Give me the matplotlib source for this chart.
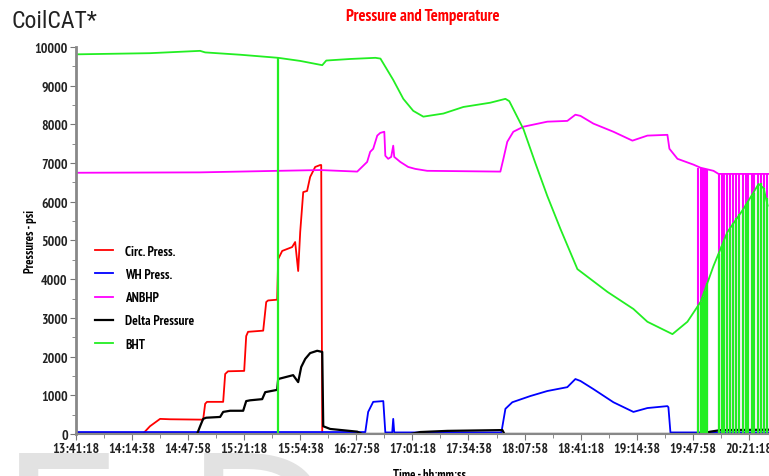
import matplotlib
matplotlib.use('Agg')
import matplotlib.pyplot as plt
from matplotlib.ticker import FuncFormatter, MultipleLocator

plt.rcParams['font.family'] = ['PT Sans Narrow', 'Roboto Condensed', 'DejaVu Sans']

# tiempo en minutos desde 13:41:18
start_s = 13 * 3600 + 41 * 60 + 18

circ_t = [0, 39.9, 44.0, 50.0, 55.9, 75.6, 76.8, 77.9, 87.5, 88.7, 90.4, 100.0, 101.2, 102.3,
          111.3, 113.1, 114.2, 119.6, 120.2, 122.6, 128.5, 130.3, 132.1, 133.3, 135.1, 137.4,
          139.2, 142.2, 145.2, 145.8, 146.4, 412]
circ_v = [10, 10, 200, 390, 380, 370, 780, 830, 830, 1550, 1620, 1630, 2530, 2640,
          2670, 3410, 3450, 3470, 4520, 4730, 4830, 4960, 4210, 5220, 6250, 6280,
          6640, 6900, 6950, 6950, 0, 0]

wh_t = [0, 172, 173.7, 176.7, 182.7, 183.9, 188.0, 188.6, 189.2, 252.9, 255.3, 259.4, 270.1,
        280.2, 292.1, 296.9, 299.9, 307.6, 319.5, 331.4, 339.7, 351.6, 352.2, 353.4, 412]
wh_v = [50, 50, 570, 830, 850, 40, 40, 390, 40, 40, 650, 820, 980,
        1110, 1210, 1420, 1370, 1160, 820, 570, 670, 720, 690, 40, 40]

anbhp_t = [0, 73.8, 120.2, 145.2, 167.2, 173.1, 174.9, 176.7, 179.1, 180.9, 183.3, 183.9, 185.6,
           187.4, 188.6, 189.2, 192.8, 197.5, 201.7, 208.8, 252.3, 254.1, 256.4, 260.0, 266.0,
           280.2, 292.1, 296.9, 299.9, 307.6, 319.5, 330.8, 339.7, 351.6, 352.8, 357.6, 367.1,
           371.3, 379.0, 382.0, 412]
anbhp_v = [6750, 6760, 6800, 6820, 6780, 7030, 7290, 7370, 7710, 7780, 7810, 7190, 7110,
           7160, 7450, 7160, 7030, 6900, 6850, 6800, 6780, 7110, 7550, 7810, 7940,
           8070, 8090, 8250, 8220, 8020, 7810, 7580, 7710, 7730, 7370, 7110, 6960,
           6880, 6800, 6720, 6720]

delta_t = [0, 72.0, 73.8, 75.6, 77.4, 85.7, 87.5, 91.6, 99.4, 101.2, 103.5, 110.7, 112.5, 119.6,
           120.2, 129.1, 132.1, 133.9, 136.3, 139.2, 143.4, 146.4, 147.0, 151.1, 167.2, 170.2,
           198.7, 204.7, 220.7, 252.3, 253.5, 254.7, 371.3, 377.2, 383.2, 412]
delta_v = [0, 0, 200, 390, 420, 440, 570, 600, 600, 850, 870, 900, 1080, 1140,
           1420, 1520, 1340, 1730, 1940, 2090, 2150, 2120, 200, 130, 60, 0,
           0, 50, 80, 100, 100, 0, 0, 60, 100, 110]

bht_t = [0, 44, 73.8, 76.8, 97.6, 120.2, 133.3, 146.4, 148.8, 163, 178, 181, 188.6, 194.6,
         200.5, 206.5, 218.4, 230.3, 246.3, 255.3, 257.6, 266, 273.1, 280.2, 288, 298.1,
         316, 331.4, 339.7, 354.6, 363.5, 371.3, 379, 387.3, 396.9, 402.2, 405.8, 408.8, 411.2]
bht_v = [9810, 9840, 9900, 9860, 9800, 9720, 9640, 9530, 9650, 9690, 9720, 9700, 9150, 8660,
         8350, 8200, 8280, 8450, 8560, 8660, 8600, 7880, 7000, 6150, 5300, 4260,
         3670, 3230, 2900, 2580, 2900, 3410, 4340, 5220, 5820, 6200, 6460, 6350, 5900]

# caídas a cero de la señal (BHT y ANBHP)
drop_t = [369.5, 371.3, 372.5, 373.7, 375.4, 382.0, 383.8, 385.0, 386.8, 388.6, 390.4,
          392.2, 394.0, 396.3, 398.2, 399.4, 401.7, 402.8, 405.2, 407.0, 408.8, 410.6]
drop_anbhp_top = [6880, 6880, 6860, 6850, 6830, 6720, 6720, 6720, 6720, 6720, 6720,
                  6720, 6720, 6720, 6720, 6720, 6720, 6720, 6720, 6720, 6720, 6720]
drop_bht_t = [120.2] + drop_t
drop_bht_top = [9720, 3300, 3410, 3550, 3700, 3900, 4650, 4850, 5000, 5180, 5300, 5450,
                5580, 5680, 5800, 5950, 6020, 6150, 6220, 6420, 6480, 6350, 6100]

red, blue, mag, green = '#ff0000', '#0000ff', '#ff00ff', '#22ee22'

fig = plt.figure(figsize=(7.69, 4.77), dpi=100)
ax = fig.add_axes([0.0988, 0.0881, 0.9012, 0.8113])

# marca de agua gris al pie
fig.text(0.0, -0.247, 'E', fontsize=140, color='#e2e2e2',
         family='DejaVu Sans', va='baseline', zorder=-5)
fig.text(0.24, -0.247, 'D', fontsize=140, color='#e2e2e2',
         family='DejaVu Sans', va='baseline', zorder=-5)

ax.plot(circ_t, circ_v, color=red, lw=1.3, label='Circ. Press.')
ax.plot(wh_t, wh_v, color=blue, lw=1.3, label='WH Press.')
ax.plot(anbhp_t, anbhp_v, color=mag, lw=1.3, label='ANBHP')
ax.vlines(drop_t, 0, drop_anbhp_top, color=mag, lw=1.5)
ax.plot(delta_t, delta_v, color='black', lw=1.6, label='Delta Pressure')
ax.plot(bht_t, bht_v, color=green, lw=1.3, label='BHT')
ax.vlines(drop_bht_t, 0, drop_bht_top, color=green, lw=1.6)

ax.set_xlim(0, 412)
ax.set_ylim(0, 10000)
ax.xaxis.set_major_locator(MultipleLocator(2000 / 60))
ax.xaxis.set_minor_locator(MultipleLocator(1000 / 60))
ax.yaxis.set_major_locator(MultipleLocator(1000))
ax.yaxis.set_minor_locator(MultipleLocator(500))


def hhmmss(m, pos):
    s = int(round(start_s + m * 60))
    return '%d:%02d:%02d' % (s // 3600, (s % 3600) // 60, s % 60)


ax.xaxis.set_major_formatter(FuncFormatter(hhmmss))

for sp in ['top', 'right']:
    ax.spines[sp].set_visible(False)
ax.spines['left'].set_color('#888888')
ax.spines['left'].set_linewidth(2)
ax.spines['bottom'].set_color('#888888')
ax.spines['bottom'].set_linewidth(1.5)
ax.tick_params(which='both', direction='out', color='#777777')
ax.tick_params(which='major', length=4, labelsize=10, pad=2)
ax.tick_params(which='minor', length=3)
for lab in ax.get_xticklabels() + ax.get_yticklabels():
    lab.set_fontweight('bold')
    lab.set_color('#222222')

ax.set_ylabel('Pressures - psi', fontsize=9, fontweight='bold')
ax.yaxis.set_label_coords(-0.056, 0.5)
ax.set_xlabel('Time - hh:mm:ss', fontsize=9, fontweight='bold')
ax.xaxis.set_label_coords(0.51, -0.088)

ax.legend(loc='upper left', bbox_to_anchor=(0.01, 0.52), frameon=False,
          prop={'size': 9.5, 'weight': 'bold'}, handlelength=1.4, handletextpad=0.9,
          labelspacing=0.78)

fig.text(0.55, 0.965, 'Pressure and Temperature', color=red, fontsize=12,
         fontweight='bold', ha='center', va='center')
fig.text(0.015, 0.955, 'CoilCAT*', color='#222222', fontsize=17, va='center',
         family=['Roboto Condensed', 'DejaVu Sans'])

plt.savefig('out.png', dpi=100)
